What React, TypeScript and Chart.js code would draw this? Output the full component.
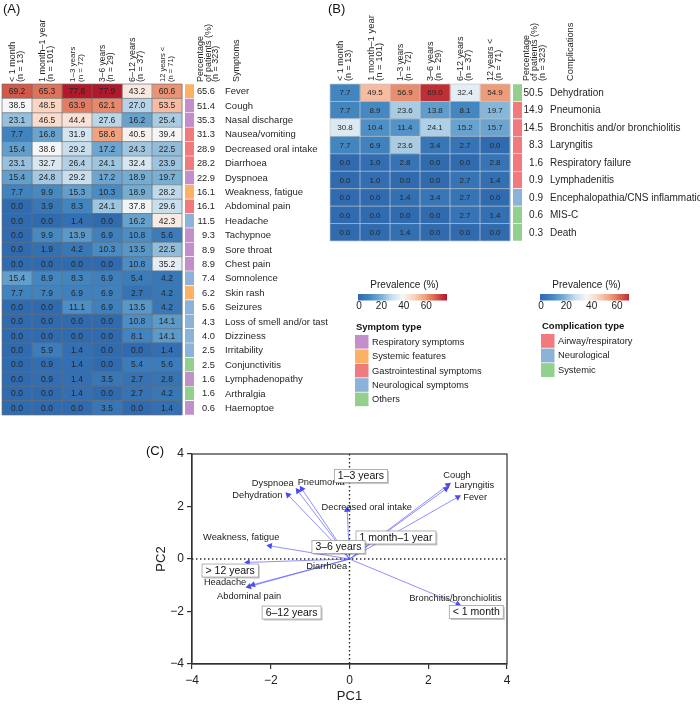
import React, { useEffect, useRef } from "react";
import { Chart, registerables } from "chart.js";
Chart.register(...registerables);

const FONT = "'Liberation Sans', Arial, Helvetica, sans-serif";

// ---------- shared ----------
const ageGroups = ["< 1 month", "1 month\u20131 year", "1\u20133 years", "3\u20136 years", "6\u201312 years", "12 years <"];
const ageCounts = ["(n = 13)", "(n = 101)", "(n = 72)", "(n = 29)", "(n = 37)", "(n = 71)"];
const pctHeader = ["Percentage", "of patients (%)", "(n = 323)"];

// ---------- panel A: symptoms ----------
const symptoms = [
  "Fever", "Cough", "Nasal discharge", "Nausea/vomiting", "Decreased oral intake", "Diarrhoea",
  "Dyspnoea", "Weakness, fatigue", "Abdominal pain", "Headache", "Tachypnoe", "Sore throat",
  "Chest pain", "Somnolence", "Skin rash", "Seizures", "Loss of smell and/or taste", "Dizziness",
  "Irritability", "Conjunctivitis", "Lymphadenopathy", "Arthralgia", "Haemoptoe",
];
const symptomValues: number[][] = [
  [69.2, 65.3, 77.8, 77.9, 43.2, 60.6],
  [38.5, 48.5, 63.9, 62.1, 27.0, 53.5],
  [23.1, 46.5, 44.4, 27.6, 16.2, 25.4],
  [7.7, 16.8, 31.9, 58.6, 40.5, 39.4],
  [15.4, 38.6, 29.2, 17.2, 24.3, 22.5],
  [23.1, 32.7, 26.4, 24.1, 32.4, 23.9],
  [15.4, 24.8, 29.2, 17.2, 18.9, 19.7],
  [7.7, 9.9, 15.3, 10.3, 18.9, 28.2],
  [0.0, 3.9, 8.3, 24.1, 37.8, 29.6],
  [0.0, 0.0, 1.4, 0.0, 16.2, 42.3],
  [0.0, 9.9, 13.9, 6.9, 10.8, 5.6],
  [0.0, 1.9, 4.2, 10.3, 13.5, 22.5],
  [0.0, 0.0, 0.0, 0.0, 10.8, 35.2],
  [15.4, 8.9, 8.3, 6.9, 5.4, 4.2],
  [7.7, 7.9, 6.9, 6.9, 2.7, 4.2],
  [0.0, 0.0, 11.1, 6.9, 13.5, 4.2],
  [0.0, 0.0, 0.0, 0.0, 10.8, 14.1],
  [0.0, 0.0, 0.0, 0.0, 8.1, 14.1],
  [0.0, 5.9, 1.4, 0.0, 0.0, 1.4],
  [0.0, 0.9, 1.4, 0.0, 5.4, 5.6],
  [0.0, 0.9, 1.4, 3.5, 2.7, 2.8],
  [0.0, 0.0, 1.4, 0.0, 2.7, 4.2],
  [0.0, 0.0, 0.0, 3.5, 0.0, 1.4],
];
const symptomTotals = [65.6, 51.4, 35.3, 31.3, 28.9, 28.2, 22.9, 16.1, 16.1, 11.5, 9.3, 8.9, 8.9, 7.4, 6.2, 5.6, 4.3, 4.0, 2.5, 2.5, 1.6, 1.6, 0.6];
// 0 respiratory, 1 systemic, 2 gastrointestinal, 3 neurological, 4 others
const symptomTypeOfRow = [1, 0, 0, 2, 2, 2, 0, 1, 2, 3, 0, 0, 0, 3, 1, 3, 3, 3, 3, 4, 0, 4, 0];
const symptomTypes = ["Respiratory symptoms", "Systemic features", "Gastrointestinal symptoms", "Neurological symptoms", "Others"];
const symptomTypeColors = ["#c38fca", "#fdb165", "#f07a7d", "#8bb2d8", "#93d08e"];

// ---------- panel B: complications ----------
const complications = [
  "Dehydration", "Pneumonia", "Bronchitis and/or bronchiolitis", "Laryngitis", "Respiratory failure",
  "Lymphadenitis", "Encephalopathia/CNS inflammation", "MIS-C", "Death",
];
const complicationValues: number[][] = [
  [7.7, 49.5, 56.9, 69.0, 32.4, 54.9],
  [7.7, 8.9, 23.6, 13.8, 8.1, 19.7],
  [30.8, 10.4, 11.4, 24.1, 15.2, 15.7],
  [7.7, 6.9, 23.6, 3.4, 2.7, 0.0],
  [0.0, 1.0, 2.8, 0.0, 0.0, 2.8],
  [0.0, 1.0, 0.0, 0.0, 2.7, 1.4],
  [0.0, 0.0, 1.4, 3.4, 2.7, 0.0],
  [0.0, 0.0, 0.0, 0.0, 2.7, 1.4],
  [0.0, 0.0, 1.4, 0.0, 0.0, 0.0],
];
const complicationTotals = [50.5, 14.9, 14.5, 8.3, 1.6, 0.9, 0.9, 0.6, 0.3];
// 0 airway/respiratory, 1 neurological, 2 systemic
const complicationTypeOfRow = [2, 0, 0, 0, 0, 0, 1, 2, 2];
const complicationTypes = ["Airway/respiratory", "Neurological", "Systemic"];
const complicationTypeColors = ["#f07a7d", "#8bb2d8", "#93d08e"];

const colorbarTicks = [0, 20, 40, 60];

// ---------- panel C: biplot ----------
const biplotVars = [
  "Cough", "Laryngitis", "Fever", "Decreased oral intake", "Dyspnoea", "Pneumonia", "Dehydration",
  "Weakness, fatigue", "Headache", "Abdominal pain", "Diarrhoea", "Bronchitis/bronchiolitis",
];
const varPC1 = [2.50, 2.45, 2.75, -0.06, -1.31, -1.21, -1.56, -2.02, -2.58, -2.55, -2.45, 2.75];
const varPC2 = [2.82, 2.67, 2.36, 1.87, 2.59, 2.67, 2.44, 0.50, -0.13, -1.05, -0.98, -1.72];
const varLabelPC1 = [2.73, 3.17, 3.19, 0.44, -1.95, -0.72, -2.34, -2.75, -3.16, -2.55, -0.58, 2.69];
const varLabelPC2 = [3.20, 2.82, 2.36, 1.98, 2.86, 2.90, 2.44, 0.84, -0.91, -1.41, -0.27, -1.49];
const ageLabels = ["1\u20133 years", "1 month\u20131 year", "3\u20136 years", "> 12 years", "6\u201312 years", "< 1 month"];
const agePC1 = [0.29, 1.18, -0.28, -3.03, -1.47, 3.22];
const agePC2 = [3.16, 0.82, 0.46, -0.44, -2.04, -2.02];

// ---------- colour scale ----------
const STOPS = [
  [0, 48, 107, 175],
  [0.125, 70, 137, 194],
  [0.25, 120, 174, 211],
  [0.375, 200, 222, 237],
  [0.5, 247, 247, 247],
  [0.625, 250, 212, 192],
  [0.75, 241, 162, 127],
  [0.875, 214, 96, 77],
  [1, 178, 24, 43],
];
function colorFor(v: number, max: number): string {
  const t = Math.max(0, Math.min(1, v / max));
  for (let i = 1; i < STOPS.length; i++) {
    if (t <= STOPS[i][0]) {
      const a = STOPS[i - 1], b = STOPS[i];
      const f = (t - a[0]) / (b[0] - a[0]);
      const c = [1, 2, 3].map((k) => Math.round(a[k] + (b[k] - a[k]) * f));
      return `rgb(${c[0]},${c[1]},${c[2]})`;
    }
  }
  return "rgb(178,24,43)";
}

// ---------- heatmap ----------
type HeatParams = {
  rows: string[]; values: number[][]; totals: number[]; typeIdx: number[]; typeColors: string[];
  colorMax: number; padding: any; gridColor: string; gridWidth: number;
  cellFont: number; nameFont: number; pctFont: number; headerSizes: number[]; lineGap: number;
  pctRight: number; nameLeft: number; pctHeaderX: number[]; pctHeaderSize: number;
  title: string; titleX: number; titleSize: number; headerGap: number; panel: string; panelX: number;
};

function makeHeatPlugin(p: HeatParams) {
  return {
    id: "heat" + p.panel,
    afterDatasetsDraw(chart: any) {
      const ctx = chart.ctx;
      const xs = chart.scales.x;
      const ca = chart.chartArea;
      const n = p.rows.length;
      const rowH = (ca.bottom - ca.top) / n;
      const xL = xs.getPixelForValue(0), xR = xs.getPixelForValue(6);
      ctx.save();
      ctx.strokeStyle = p.gridColor;
      ctx.lineWidth = p.gridWidth;
      ctx.beginPath();
      for (let j = 0; j <= 6; j++) {
        const x = xs.getPixelForValue(j);
        ctx.moveTo(x, ca.top); ctx.lineTo(x, ca.bottom);
      }
      for (let i = 0; i <= n; i++) {
        const y = ca.top + i * rowH;
        ctx.moveTo(xL, y); ctx.lineTo(xR, y);
      }
      ctx.stroke();

      ctx.fillStyle = "#262626";
      ctx.textAlign = "center";
      ctx.textBaseline = "middle";
      ctx.font = `${p.cellFont}px ${FONT}`;
      for (let j = 0; j < 6; j++) {
        const meta = chart.getDatasetMeta(j);
        meta.data.forEach((el: any, i: number) => {
          ctx.fillText(p.values[i][j].toFixed(1), (el.x + el.base) / 2, el.y + 0.5);
        });
      }
      const strip = chart.getDatasetMeta(7);
      strip.data.forEach((el: any, i: number) => {
        ctx.textAlign = "right";
        ctx.font = `${p.pctFont}px ${FONT}`;
        ctx.fillText(p.totals[i].toFixed(1), el.x + p.pctRight, el.y + 0.5);
        ctx.textAlign = "left";
        ctx.font = `${p.nameFont}px ${FONT}`;
        ctx.fillText(p.rows[i], el.x + p.nameLeft, el.y + 0.5);
      });

      const hb = ca.top - p.headerGap;
      const rot = (text: string, x: number, size: number) => {
        ctx.save();
        ctx.translate(x, hb);
        ctx.rotate(-Math.PI / 2);
        ctx.font = `${size}px ${FONT}`;
        ctx.textAlign = "left";
        ctx.textBaseline = "middle";
        ctx.fillText(text, 0, 0);
        ctx.restore();
      };
      for (let j = 0; j < 6; j++) {
        const cx = xs.getPixelForValue(j + 0.5);
        rot(ageGroups[j], cx - p.lineGap / 2, p.headerSizes[j]);
        rot(ageCounts[j], cx + p.lineGap / 2, p.headerSizes[j]);
      }
      const sx = xs.getPixelForValue(6.4);
      pctHeader.forEach((t, k) => rot(t, sx + p.pctHeaderX[k], p.pctHeaderSize));
      rot(p.title, sx + p.titleX, p.titleSize);

      ctx.font = `13px ${FONT}`;
      ctx.textAlign = "left";
      ctx.textBaseline = "top";
      ctx.fillStyle = "#111";
      ctx.fillText(p.panel, p.panelX, 3);
      ctx.restore();
    },
  };
}

function makeHeatConfig(p: HeatParams, extraPlugins: any[] = []): any {
  const datasets: any[] = [];
  for (let j = 0; j < 6; j++) {
    datasets.push({
      label: ageGroups[j],
      data: p.rows.map(() => 1),
      backgroundColor: p.values.map((r) => colorFor(r[j], p.colorMax)),
      borderWidth: 0,
      barPercentage: 1,
      categoryPercentage: 1,
    });
  }
  datasets.push({
    label: "gap",
    data: p.rows.map(() => 0.1),
    backgroundColor: "rgba(0,0,0,0)",
    borderWidth: 0,
    barPercentage: 1,
    categoryPercentage: 1,
  });
  datasets.push({
    label: "type",
    data: p.rows.map(() => 0.3),
    backgroundColor: p.typeIdx.map((t) => p.typeColors[t]),
    borderColor: "#ffffff",
    borderWidth: { top: 0.6, bottom: 0.6, left: 0, right: 0 },
    borderSkipped: false,
    barPercentage: 1,
    categoryPercentage: 1,
  });
  return {
    type: "bar",
    data: { labels: p.rows, datasets },
    options: {
      indexAxis: "y",
      responsive: false,
      animation: false,
      events: [],
      layout: { padding: p.padding },
      scales: {
        x: { stacked: true, min: 0, max: 6.4, display: false },
        y: { stacked: true, display: false },
      },
      plugins: { legend: { display: false }, tooltip: { enabled: false } },
    },
    plugins: [makeHeatPlugin(p), ...extraPlugins],
  };
}

const MAX_A = 77.9;
const MAX_B = 72;

// legends drawn on panel B's canvas (its x origin is page x 328)
const legendPlugin = {
  id: "legendsAB",
  afterDraw(chart: any) {
    const ctx = chart.ctx;
    ctx.save();
    const drawBar = (x0: number, x1: number, zeroX: number, pxPer: number, vmax: number, cmax: number) => {
      for (let x = x0; x < x1; x++) {
        const v = Math.max(0, Math.min(vmax, (x + 0.5 - zeroX) / pxPer));
        ctx.fillStyle = colorFor(v, cmax);
        ctx.fillRect(x, 294, 1, 6.5);
      }
      ctx.fillStyle = "#222";
      ctx.font = `10px ${FONT}`;
      ctx.textAlign = "center";
      ctx.textBaseline = "middle";
      colorbarTicks.forEach((t) => ctx.fillText(String(t), zeroX + t * pxPer, 306.5));
      ctx.fillText("Prevalence (%)", (x0 + x1) / 2 + 2, 285);
    };
    drawBar(30, 119, 31, 1.12, MAX_A, MAX_A);
    drawBar(212, 301, 213, 1.267, 69.5, MAX_B);

    const drawLegend = (title: string, items: string[], colors: string[], x: number, y: number, step: number) => {
      ctx.fillStyle = "#111";
      ctx.font = `bold 9.5px ${FONT}`;
      ctx.textAlign = "left";
      ctx.textBaseline = "middle";
      ctx.fillText(title, x + 1, y);
      items.forEach((it, k) => {
        const top = y + 8 + k * step;
        ctx.fillStyle = colors[k];
        ctx.fillRect(x, top, 13.5, step - 0.8);
        ctx.fillStyle = "#222";
        ctx.font = `9.3px ${FONT}`;
        ctx.fillText(it, x + 17, top + step / 2);
      });
    };
    drawLegend("Symptom type", symptomTypes, symptomTypeColors, 27, 327, 14.4);
    drawLegend("Complication type", complicationTypes, complicationTypeColors, 213, 326, 14.6);
    ctx.restore();
  },
};

const configA = () =>
  makeHeatConfig({
    rows: symptoms, values: symptomValues, totals: symptomTotals, typeIdx: symptomTypeOfRow,
    typeColors: symptomTypeColors, colorMax: MAX_A,
    padding: { left: 2, top: 84, right: 134, bottom: 15 },
    gridColor: "rgba(110,110,110,0.85)", gridWidth: 0.8,
    cellFont: 8.5, nameFont: 9.5, pctFont: 9.3, headerSizes: [9, 9, 8, 8.5, 9, 7.5], lineGap: 8,
    pctRight: 21, nameLeft: 31, pctHeaderX: [7, 14.5, 21.5], pctHeaderSize: 9,
    title: "Symptoms", titleX: 42.5, titleSize: 9, headerGap: 2, panel: "(A)", panelX: 3,
  });

const configB = () =>
  makeHeatConfig(
    {
      rows: complications, values: complicationValues, totals: complicationTotals,
      typeIdx: complicationTypeOfRow, typeColors: complicationTypeColors, colorMax: MAX_B,
      padding: { left: 2, top: 84, right: 178, bottom: 179 },
      gridColor: "rgba(200,200,200,0.9)", gridWidth: 0.8,
      cellFont: 8, nameFont: 10, pctFont: 10, headerSizes: [9, 9.5, 8.5, 9, 9, 9], lineGap: 8,
      pctRight: 21, nameLeft: 28, pctHeaderX: [5, 12.5, 20.5], pctHeaderSize: 9,
      title: "Complications", titleX: 48, titleSize: 9.3, headerGap: 3, panel: "(B)", panelX: 0,
    },
    [legendPlugin]
  );

// ---------- biplot ----------
const biplotPlugin = {
  id: "biplot",
  beforeDatasetsDraw(chart: any) {
    const ctx = chart.ctx;
    const xs = chart.scales.x, ys = chart.scales.y;
    const ca = chart.chartArea;
    ctx.save();
    ctx.strokeStyle = "#222";
    ctx.lineWidth = 1.4;
    ctx.setLineDash([1.4, 2.6]);
    const x0 = xs.getPixelForValue(0), y0 = ys.getPixelForValue(0);
    ctx.beginPath();
    ctx.moveTo(x0, ca.top); ctx.lineTo(x0, ca.bottom);
    ctx.moveTo(ca.left, y0); ctx.lineTo(ca.right, y0);
    ctx.stroke();
    ctx.restore();
  },
  afterDatasetsDraw(chart: any) {
    const ctx = chart.ctx;
    const xs = chart.scales.x, ys = chart.scales.y;
    const ca = chart.chartArea;
    ctx.save();
    ctx.strokeStyle = "#333";
    ctx.lineWidth = 1.2;
    ctx.strokeRect(ca.left, ca.top, ca.right - ca.left, ca.bottom - ca.top);

    ctx.fillStyle = "#222";
    ctx.font = `9.3px ${FONT}`;
    ctx.textAlign = "center";
    ctx.textBaseline = "middle";
    biplotVars.forEach((v, i) => {
      ctx.fillText(v, xs.getPixelForValue(varLabelPC1[i]), ys.getPixelForValue(varLabelPC2[i]));
    });

    ctx.font = `10.5px ${FONT}`;
    ageLabels.forEach((t, i) => {
      const w = ctx.measureText(t).width + 7;
      const h = 13;
      const cx = xs.getPixelForValue(agePC1[i]);
      const cy = ys.getPixelForValue(agePC2[i]);
      const x = cx - w / 2, y = cy - h / 2;
      ctx.fillStyle = "rgba(0,0,0,0.22)";
      ctx.fillRect(x + 1.5, y + 1.5, w, h);
      ctx.fillStyle = "#fff";
      ctx.fillRect(x, y, w, h);
      ctx.strokeStyle = "#a0a0a0";
      ctx.lineWidth = 0.8;
      ctx.strokeRect(x, y, w, h);
      ctx.fillStyle = "#111";
      ctx.fillText(t, cx, cy + 0.5);
    });

    ctx.font = `13px ${FONT}`;
    ctx.textAlign = "left";
    ctx.fillStyle = "#111";
    ctx.fillText("(C)", 146, 21);
    ctx.restore();
  },
};

const minus = (v: any) => String(v).replace("-", "\u2212");

const configC = (): any => ({
  type: "scatter",
  data: {
    datasets: biplotVars.map((name, i) => ({
      label: name,
      data: [{ x: 0, y: 0 }, { x: varPC1[i], y: varPC2[i] }],
      showLine: true,
      borderColor: "rgba(85,85,255,0.65)",
      borderWidth: 1,
      pointStyle: "triangle",
      pointRadius: (c: any) => (c.dataIndex === 1 ? 3.7 : 0),
      pointRotation: (c: any) => {
        const ch = c.chart;
        const xs = ch.scales && ch.scales.x, ys = ch.scales && ch.scales.y;
        if (!xs || !ys) return 0;
        const dx = xs.getPixelForValue(varPC1[i]) - xs.getPixelForValue(0);
        const dy = ys.getPixelForValue(varPC2[i]) - ys.getPixelForValue(0);
        return (Math.atan2(dx, -dy) * 180) / Math.PI;
      },
      pointBackgroundColor: "#4b4bf2",
      pointBorderColor: "#4b4bf2",
      pointBorderWidth: 0,
    })),
  },
  options: {
    responsive: false,
    animation: false,
    events: [],
    layout: { padding: { left: 154, right: 193, top: 24, bottom: 0 } },
    scales: {
      x: {
        type: "linear", min: -4, max: 4,
        afterFit: (s: any) => { s.height = 40; },
        ticks: { stepSize: 2, color: "#222", font: { family: FONT, size: 12 }, padding: 4, callback: minus },
        grid: { drawOnChartArea: false, drawTicks: true, tickLength: 5, color: "#333", lineWidth: 1.2 },
        border: { display: true, color: "#333", width: 1.2 },
        title: { display: true, text: "PC1", color: "#222", font: { family: FONT, size: 13 }, padding: { top: 0, bottom: 0 } },
      },
      y: {
        type: "linear", min: -4, max: 4,
        afterFit: (s: any) => { s.width = 38; },
        ticks: { stepSize: 2, color: "#222", font: { family: FONT, size: 12 }, padding: 3, callback: minus },
        grid: { drawOnChartArea: false, drawTicks: true, tickLength: 5, color: "#333", lineWidth: 1.2 },
        border: { display: true, color: "#333", width: 1.2 },
        title: { display: true, text: "PC2", color: "#222", font: { family: FONT, size: 13 }, padding: { top: 0, bottom: 0 } },
      },
    },
    plugins: { legend: { display: false }, tooltip: { enabled: false } },
  },
  plugins: [biplotPlugin],
});

function ChartCanvas(props: { make: () => any; left: number; top: number; width: number; height: number }) {
  const ref = useRef<HTMLCanvasElement>(null);
  useEffect(() => {
    const chart = new Chart(ref.current as HTMLCanvasElement, props.make());
    return () => chart.destroy();
  }, []);
  return (
    <canvas
      ref={ref}
      width={props.width}
      height={props.height}
      style={{ position: "absolute", left: props.left, top: props.top, width: props.width, height: props.height }}
    />
  );
}

export default function App() {
  return (
    <div style={{ position: "fixed", left: 0, top: 0, width: 700, height: 704, background: "#fff", overflow: "hidden" }}>
      <ChartCanvas make={configA} left={0} top={0} width={328} height={430} />
      <ChartCanvas make={configB} left={328} top={0} width={372} height={420} />
      <ChartCanvas make={configC} left={0} top={430} width={700} height={274} />
    </div>
  );
}
